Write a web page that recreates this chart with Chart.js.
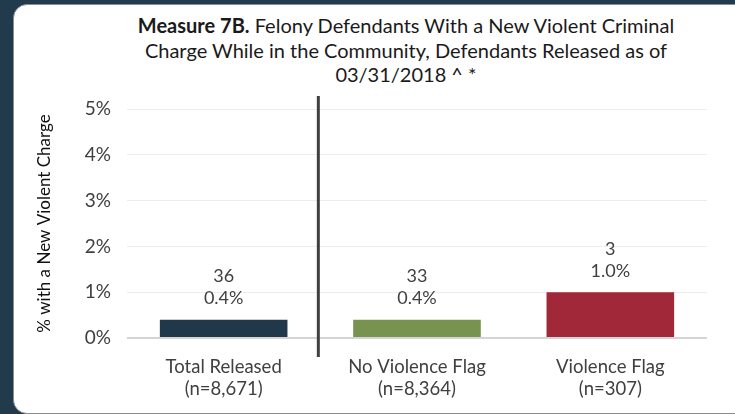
<!DOCTYPE html>
<html>
<head>
<meta charset="utf-8">
<script src="https://cdn.jsdelivr.net/npm/chart.js@4"></script>
<style>
  html, body { margin: 0; padding: 0; }
  body { width: 735px; height: 414px; background: #213a4c; position: relative; overflow: hidden; font-family: Lato, "Noto Sans", sans-serif; }
  .panel { position: absolute; left: 13px; top: 4px; width: 740px; height: 408px; background: #fff; border: 1px solid #8c8c8c; border-radius: 14px; }
  .title { position: absolute; left: 56px; width: 700px; top: 13px; text-align: center; font-size: 20px; line-height: 24.5px; color: #1a1a1a; }
  .title b { font-weight: 700; }
  .chart-box { position: absolute; left: 0; top: 0; width: 735px; height: 414px; }
</style>
</head>
<body>
<div class="panel"></div>
<div class="title"><b>Measure 7B.</b> Felony Defendants With a New Violent Criminal<br>Charge While in the Community, Defendants Released as of<br>03/31/2018 ^ *</div>
<div class="chart-box"><canvas id="chart__measure__7b"></canvas></div>
<script>
const categories = [['Total Released', '(n=8,671)'], ['No Violence Flag', '(n=8,364)'], ['Violence Flag', '(n=307)']]
const percentValues = [0.4, 0.4, 1.0]
const countValues = [36, 33, 3]
const barColors = ['#21384b', '#78924f', '#a12838']
const yTicks = [0, 1, 2, 3, 4, 5]

const textColor = '#404040'
const fontFamily = 'Lato, "Noto Sans", sans-serif'

Chart.defaults.font.family = fontFamily
Chart.defaults.font.size = 15
Chart.defaults.color = textColor

// nhãn số lượng + phần trăm phía trên cột
const barLabels = {
    id: 'barLabels',
    afterDatasetsDraw(chart) {
        const ctx = chart.ctx
        const meta = chart.getDatasetMeta(0)
        ctx.save()
        ctx.fillStyle = textColor
        ctx.font = '18px ' + fontFamily
        ctx.textAlign = 'center'
        ctx.textBaseline = 'middle'
        meta.data.forEach((bar, i) => {
            ctx.fillText(percentValues[i].toFixed(1) + '%', bar.x, bar.y - 21)
            ctx.fillText(String(countValues[i]), bar.x, bar.y - 43)
        })
        ctx.restore()
    }
}

// đường phân cách giữa Total Released và các nhóm còn lại
const dividerLine = {
    id: 'dividerLine',
    afterDraw(chart) {
        const x = chart.scales.x
        const area = chart.chartArea
        const px = (x.getPixelForValue(0) + x.getPixelForValue(1)) / 2 - 2
        const ctx = chart.ctx
        ctx.save()
        ctx.strokeStyle = '#404040'
        ctx.lineWidth = 3
        ctx.beginPath()
        ctx.moveTo(px, area.top - 13)
        ctx.lineTo(px, area.bottom + 19)
        ctx.stroke()
        ctx.restore()
    }
}

new Chart(document.getElementById('chart__measure__7b'), {
    type: 'bar',
    data: {
        labels: categories,
        datasets: [{
            data: percentValues,
            backgroundColor: barColors,
            barPercentage: 0.66,
            categoryPercentage: 1
        }]
    },
    options: {
        responsive: true,
        maintainAspectRatio: false,
        animation: false,
        layout: { padding: { left: 32, right: 28, top: 109, bottom: 6 } },
        plugins: {
            legend: { display: false },
            tooltip: { enabled: false }
        },
        scales: {
            x: {
                afterFit: (scale) => { scale.height = 70 },
                grid: { display: false },
                border: { display: false },
                ticks: {
                    color: textColor,
                    padding: 10,
                    font: { family: fontFamily, size: 18.5, lineHeight: 1.19 },
                    maxRotation: 0,
                    autoSkip: false
                }
            },
            y: {
                min: 0,
                max: 5,
                afterFit: (scale) => { scale.width = 95 },
                afterBuildTicks: (scale) => { scale.ticks = yTicks.map(v => ({ value: v })) },
                grid: {
                    drawTicks: false,
                    color: (c) => c.tick && c.tick.value === 0 ? '#d4d4d4' : '#ececec',
                    lineWidth: (c) => c.tick && c.tick.value === 0 ? 2 : 1
                },
                border: { display: false },
                ticks: {
                    color: textColor,
                    padding: 16,
                    font: { family: fontFamily, size: 19 },
                    callback: (v) => v + '%'
                },
                title: {
                    display: true,
                    text: '% with a New Violent Charge',
                    color: '#111',
                    padding: { top: 2, bottom: 4 },
                    font: { family: fontFamily, size: 17 }
                }
            }
        }
    },
    plugins: [barLabels, dividerLine]
})
</script>
</body>
</html>
